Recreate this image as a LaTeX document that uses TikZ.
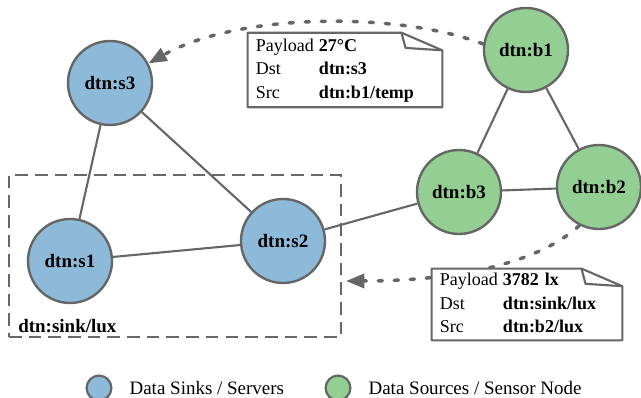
\documentclass[tikz,border=0pt]{standalone}
\usepackage{fontspec}
\setmainfont{Liberation Serif}
\usepackage{tikz}
\usetikzlibrary{arrows.meta,positioning}

\definecolor{sinkblue}{HTML}{8EBAD9}
\definecolor{sourcegreen}{HTML}{93CF93}
\definecolor{edgegray}{HTML}{666666}

\tikzset{
	dtnnode/.style={circle,draw=edgegray,line width=1.7pt,minimum size=2.1cm,inner sep=0pt,font=\fontsize{13.5}{16}\selectfont\bfseries},
	sinknode/.style={dtnnode,fill=sinkblue},
	sourcenode/.style={dtnnode,fill=sourcegreen},
	link/.style={draw=edgegray,line width=1.5pt},
	msgpath/.style={draw=edgegray,line width=2.5pt,dash pattern=on 3pt off 8.4pt,line cap=round,-{Triangle[length=13pt,width=10pt]}},
	sinkbox/.style={draw=edgegray,line width=1.4pt,dash pattern=on 9pt off 5pt},
	note/.style={fill=white,inner xsep=0.2cm,inner ysep=0pt,minimum height=1.85cm,align=left,font=\fontsize{12.8}{16.7}\selectfont},
	noteline/.style={draw=edgegray,line width=1.5pt,line join=round},
	legendmark/.style={circle,draw=edgegray,line width=1.6pt,minimum size=0.62cm,inner sep=0pt},
	legendtext/.style={inner sep=0pt,anchor=west}
}

% frame with a folded corner round a note node
\newcommand{\noteframe}[1]{%
	\draw[noteline] (#1.north west) -- ([xshift=-1.02cm]#1.north east) -- ([yshift=-0.44cm]#1.north east) -- (#1.south east) -- (#1.south west) -- cycle;
	\draw[noteline] ([xshift=-1.02cm]#1.north east) -- ([xshift=-0.92cm,yshift=-0.38cm]#1.north east) -- ([yshift=-0.44cm]#1.north east);
}

\begin{document}
\begin{tikzpicture}[x=0.025cm,y=-0.025cm,font=\fontsize{13.5}{16.7}\selectfont]
	\useasboundingbox (0,0) rectangle (641,398);

	% sink group
	\node[sinkbox,minimum width=8.3cm,minimum height=4.05cm] (sink) at (175,256) {};
	\node[legendtext,font=\fontsize{13.5}{16.7}\selectfont\bfseries] (sinklabel) at (18,326) {dtn:sink/lux};

	% nodes
	\node[sinknode] (s3) at (110,83) {dtn:s3};
	\node[sinknode] (s1) at (70,261) {dtn:s1};
	\node[sinknode] (s2) at (283,241) {dtn:s2};
	\node[sourcenode] (b1) at (526,50) {dtn:b1};
	\node[sourcenode] (b3) at (459,192) {dtn:b3};
	\node[sourcenode] (b2) at (599,187) {dtn:b2};

	% links
	\draw[link] (s3) -- (s1);
	\draw[link] (s3) -- (s2);
	\draw[link] (s1) -- (s2);
	\draw[link] (s2) -- (b3);
	\draw[link] (b3) -- (b1);
	\draw[link] (b3) -- (b2);
	\draw[link] (b1) -- (b2);

	% messages
	\draw[msgpath] (b1.172) .. controls (400,12) and (240,12) .. (s3.27);
	\draw[msgpath] (b2.243) .. controls (540,262) and (460,281) .. ([shift={(4,25)}]sink.east);

	\node[note,text width=4.45cm] (msgtemp) at (345,70) {%
		\begin{tabular}{@{}p{1.575cm}@{}l@{}}
			Payload & \textbf{27°C}\\
			Dst & \textbf{dtn:s3}\\
			Src & \textbf{dtn:b1/temp}
		\end{tabular}};
	\noteframe{msgtemp}

	\node[note,text width=4.35cm,minimum height=1.78cm] (msglux) at (527,304.5) {%
		\begin{tabular}{@{}p{1.575cm}@{}l@{}}
			Payload & \textbf{3782 lx}\\
			Dst & \textbf{dtn:sink/lux}\\
			Src & \textbf{dtn:b2/lux}
		\end{tabular}};
	\noteframe{msglux}

	% legend
	\node[legendmark,fill=sinkblue] (legsink) at (99,388) {};
	\node[legendtext,right=0.42cm of legsink] (legsinktext) {Data Sinks / Servers};
	\node[legendmark,fill=sourcegreen] (legsource) at (338,388) {};
	\node[legendtext,right=0.42cm of legsource] (legsourcetext) {Data Sources / Sensor Node};
\end{tikzpicture}
\end{document}
